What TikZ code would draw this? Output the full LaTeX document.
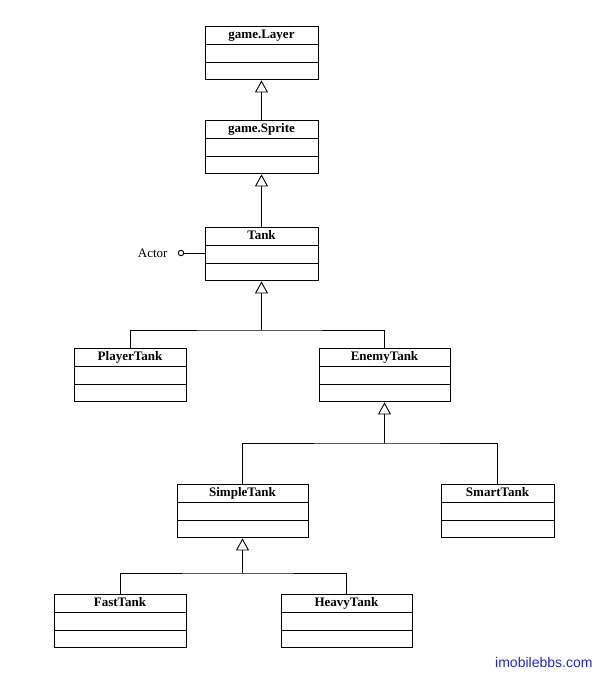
\documentclass[tikz,border=0pt]{standalone}
\usepackage{fontspec}
\setmainfont{Liberation Serif}
\newfontfamily\wmfont{Liberation Sans}
\usetikzlibrary{arrows.meta,shapes.multipart}

\definecolor{wmblue}{RGB}{36,36,214}

\begin{document}
\begin{tikzpicture}[
  x=1pt,
  y=-1pt,
  font=\fontsize{13}{14}\selectfont,
  line/.style={draw=black,line width=1pt},
  inherit/.style={line,-{Triangle[open,length=12pt,width=13pt,line width=0.9pt]}},
  umlclass/.style={line,rectangle split,rectangle split parts=3,anchor=north,
                   inner xsep=2pt,inner ysep=1.4pt,align=center,font=\fontsize{13}{14}\selectfont\bfseries},
  iface/.style={circle,draw=black,line width=0.9pt,inner sep=0pt,minimum size=5.5pt}
]
\useasboundingbox (0,0) rectangle (601,673);

% ---------------------------------------------------------------- classes
\node[umlclass,minimum width=113pt] (layer)  at (261.5,26)  {\strut game.Layer\nodepart{two}\strut\nodepart{three}\strut};
\node[umlclass,minimum width=113pt] (sprite) at (261.5,120) {\strut game.Sprite\nodepart{two}\strut\nodepart{three}\strut};
\node[umlclass,minimum width=113pt] (tank)   at (261.5,227) {\strut Tank\nodepart{two}\strut\nodepart{three}\strut};
\node[umlclass,minimum width=112pt] (player) at (130,348)   {\strut PlayerTank\nodepart{two}\strut\nodepart{three}\strut};
\node[umlclass,minimum width=131pt] (enemy)  at (384.5,348) {\strut EnemyTank\nodepart{two}\strut\nodepart{three}\strut};
\node[umlclass,minimum width=131pt] (simple) at (242.5,484) {\strut SimpleTank\nodepart{two}\strut\nodepart{three}\strut};
\node[umlclass,minimum width=113pt] (smart)  at (497.5,484) {\strut SmartTank\nodepart{two}\strut\nodepart{three}\strut};
\node[umlclass,minimum width=132pt] (fast)   at (120,594)   {\strut FastTank\nodepart{two}\strut\nodepart{three}\strut};
\node[umlclass,minimum width=131pt] (heavy)  at (346.5,594) {\strut HeavyTank\nodepart{two}\strut\nodepart{three}\strut};

% ---------------------------------------------------------------- interface lollipop
\node[iface] (actor) at (181,253) {};
\node[anchor=east] (actorlbl) at (171,253) {Actor};
\draw[line] (actor.east) -- (actor -| tank.west);

% ---------------------------------------------------------------- generalisation
\draw[inherit] (sprite.north) -- (layer.south);
\draw[inherit] (tank.north) -- (sprite.south);

\coordinate (jtank) at (261.5,330);
\draw[inherit] (jtank) -- (tank.south);
\draw[line] (player.north) |- (jtank) -| (enemy.north);

\coordinate (jenemy) at (384.5,443);
\draw[inherit] (jenemy) -- (enemy.south);
\draw[line] (simple.north) |- (jenemy) -| (smart.north);

\coordinate (jsimple) at (242.5,573);
\draw[inherit] (jsimple) -- (simple.south);
\draw[line] (fast.north) |- (jsimple) -| (heavy.north);

% ---------------------------------------------------------------- watermark
\node[anchor=east,text=wmblue,font=\wmfont\fontsize{14}{16}\selectfont] (mark) at (596,662) {imobilebbs.com};

\end{tikzpicture}
\end{document}
